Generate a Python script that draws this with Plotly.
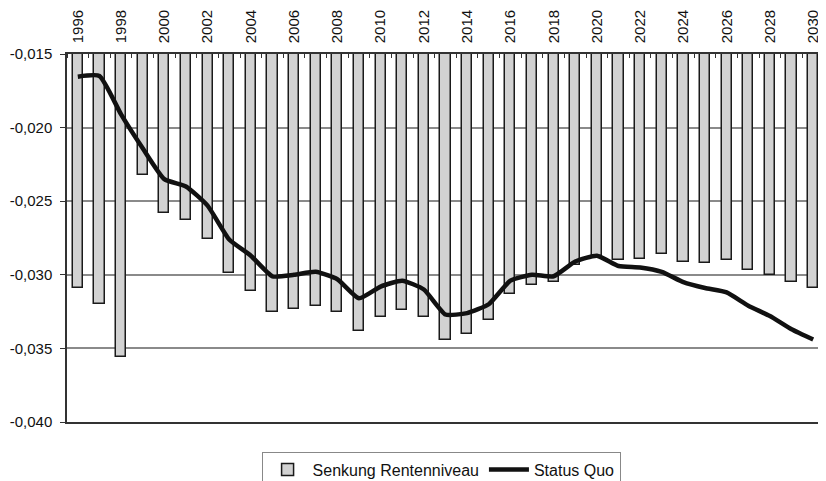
import plotly.graph_objects as go

# data
years = list(range(1996, 2031))
senkung = [-0.0309, -0.0320, -0.0356, -0.0232, -0.0258, -0.0263, -0.0276, -0.0299, -0.0311, -0.0325,
           -0.0323, -0.0321, -0.0325, -0.0338, -0.0329, -0.0324, -0.0329, -0.0344, -0.0340, -0.0331,
           -0.0313, -0.0307, -0.0305, -0.0293, -0.0287, -0.0290, -0.0289, -0.0286, -0.0291, -0.0292,
           -0.0290, -0.0297, -0.0300, -0.0305, -0.0309]
status_quo = [-0.01654, -0.01649, -0.0191, -0.0214, -0.0235, -0.0240, -0.0253, -0.0276, -0.0287, -0.0301,
              -0.0300, -0.0298, -0.0303, -0.0316, -0.0308, -0.0304, -0.0310, -0.0327, -0.0326, -0.0320,
              -0.0304, -0.0300, -0.0301, -0.0291, -0.0287, -0.0294, -0.0295, -0.0298, -0.0305, -0.0309,
              -0.0312, -0.0321, -0.0328, -0.0337, -0.0344]
y_ticks = [-0.040, -0.035, -0.030, -0.025, -0.020, -0.015]
y_labels = [f'{v:.3f}'.replace('.', ',') for v in y_ticks]  # plain hyphen, german comma
x_ticks = years[::2]

base = -0.015

fig = go.Figure()
fig.add_trace(go.Bar(x=years, y=[v - base for v in senkung], base=base, name='Senkung Rentenniveau',
                     width=0.47, marker=dict(color='#d2d2d2', line=dict(color='#1a1a1a', width=1.5))))
fig.add_trace(go.Scatter(x=years, y=status_quo, name='Status Quo', mode='lines',
                         line=dict(color='#111111', width=4.5, shape='spline', smoothing=0.5)))

# the page body adds an 8px offset, so the figure is a bit smaller than the window
fam = 'Liberation Sans, Arial'
fig.update_layout(
    width=818, height=473,
    margin=dict(l=59, r=2, t=46, b=59),
    plot_bgcolor='white', paper_bgcolor='white',
    font=dict(family=fam, size=14, color='#111111'),
    bargap=0,
    legend=dict(orientation='h', xref='container', yref='container', x=0.31, xanchor='left',
                y=0.062, yanchor='top', bordercolor='#888888', borderwidth=1,
                font=dict(family=fam, size=16), itemwidth=40),
    xaxis=dict(side='top', range=[1995.5, 2030.5], tickvals=x_ticks, ticktext=[str(y) for y in x_ticks],
               tickangle=-90, ticks='', showgrid=False, showline=True, linecolor='#333333', linewidth=1.5,
               mirror=True, tickfont=dict(family=fam, size=15), ticklabelstandoff=6, automargin=False,
               minor=dict(ticks='inside', tick0=1995.5, dtick=1, ticklen=4, tickcolor='#333333', showgrid=False)),
    yaxis=dict(range=[-0.040, -0.015], tickvals=y_ticks, ticktext=y_labels, showgrid=True, gridcolor='#8a8a8a',
               gridwidth=1.5, showline=True, linecolor='#333333', linewidth=1.5, mirror=True, ticks='outside',
               ticklen=5, tickcolor='#333333', tickfont=dict(family=fam, size=15), ticklabelstandoff=5,
               zeroline=False, automargin=False),
)

fig.write_html('out.html')
